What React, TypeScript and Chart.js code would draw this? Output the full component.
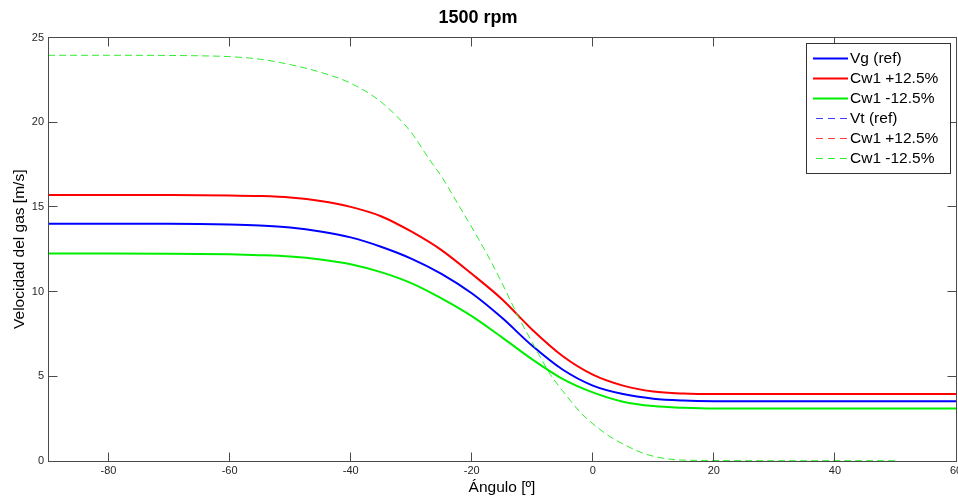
import React, { useEffect, useRef } from 'react';
import { Chart, registerables } from 'chart.js';

Chart.register(...registerables);

// ---- text ----
const titleText = '1500 rpm';
const xTitle = 'Ángulo [º]';
const yTitle = 'Velocidad del gas [m/s]';
const seriesLabels = ['Vg (ref)', 'Cw1 +12.5%', 'Cw1 -12.5%', 'Vt (ref)', 'Cw1 +12.5%', 'Cw1 -12.5%'];

// ---- axes ----
const xMin = -90;
const xMax = 60;
const yMin = 0;
const yMax = 25;
const xTicks = [-80, -60, -40, -20, 0, 20, 40, 60];
const yTicks = [0, 5, 10, 15, 20, 25];

// ---- gas velocity (solid) ----
const gasAngles = [-90, -80, -70, -60, -55, -50, -45, -40, -35, -30, -25, -20, -15, -10, -5, 0, 5, 10, 15, 20, 30, 40, 50, 60];
const vgRef = [14.0, 14.0, 14.0, 13.96, 13.9, 13.78, 13.55, 13.2, 12.65, 11.95, 11.05, 9.9, 8.45, 6.8, 5.4, 4.45, 3.95, 3.68, 3.57, 3.53, 3.52, 3.52, 3.52, 3.52];
const vgPlus = [15.7, 15.7, 15.7, 15.68, 15.64, 15.55, 15.35, 15.0, 14.45, 13.55, 12.45, 11.05, 9.55, 7.75, 6.2, 5.1, 4.45, 4.1, 3.98, 3.95, 3.95, 3.95, 3.95, 3.95];
const vgMinus = [12.25, 12.25, 12.24, 12.2, 12.15, 12.07, 11.9, 11.62, 11.15, 10.5, 9.6, 8.55, 7.3, 6.0, 4.85, 4.05, 3.5, 3.24, 3.14, 3.1, 3.1, 3.1, 3.1, 3.1];

// ---- Vt (dashed); the three dashed curves coincide in the picture,
// only the last one drawn (Cw1 -12.5%) is visible ----
const vtAngles = [-90, -80, -70, -65, -60, -55, -50, -45, -40, -35, -30, -27, -25, -22, -20, -17, -15, -12, -10, -7, -5, -2, 0, 3, 5, 8, 10, 14, 20, 30, 40, 50];
const vtRef = [23.95, 23.95, 23.94, 23.92, 23.87, 23.72, 23.4, 22.95, 22.3, 21.2, 19.4, 17.8, 16.8, 15.0, 13.8, 11.9, 10.5, 8.3, 7.0, 5.1, 4.15, 2.85, 2.2, 1.4, 1.0, 0.5, 0.28, 0.07, 0.03, 0.02, 0.02, 0.02];
const vtPlus = vtRef;
const vtMinus = vtRef;

const seriesColors = ['#0000ff', '#ff0000', '#00ee00', '#4040ff', '#ff4040', '#30ee30'];

const FONT = "'Liberation Sans', Arial, Helvetica, sans-serif";

const toPoints = (xs: number[], ys: number[]) => xs.map((x, i) => ({ x, y: ys[i] }));

const framePlugin = {
  id: 'frame',
  afterDatasetsDraw(chart: any) {
    const { ctx, chartArea: a, scales } = chart;
    const L = Math.floor(a.left) + 0.5;
    const R = Math.floor(a.right) + 0.5;
    const T = Math.floor(a.top) + 0.5;
    const B = Math.floor(a.bottom) + 0.5;
    ctx.save();
    ctx.strokeStyle = '#4a4a4a';
    ctx.lineWidth = 1;
    ctx.setLineDash([]);
    ctx.strokeRect(L, T, R - L, B - T);
    ctx.beginPath();
    const tl = 9;
    for (const v of xTicks) {
      const x = Math.floor(scales.x.getPixelForValue(v)) + 0.5;
      ctx.moveTo(x, B); ctx.lineTo(x, B - tl);
      ctx.moveTo(x, T); ctx.lineTo(x, T + tl);
    }
    for (const v of yTicks) {
      const y = Math.floor(scales.y.getPixelForValue(v)) + 0.5;
      ctx.moveTo(L, y); ctx.lineTo(L + tl, y);
      ctx.moveTo(R, y); ctx.lineTo(R - tl, y);
    }
    ctx.stroke();
    ctx.restore();
  },
};

const legendPlugin = {
  id: 'boxLegend',
  afterDraw(chart: any) {
    const { ctx } = chart;
    const bx = 806.5, by = 43.5, bw = 144, bh = 130;
    ctx.save();
    ctx.fillStyle = '#ffffff';
    ctx.fillRect(bx, by, bw, bh);
    ctx.strokeStyle = '#333333';
    ctx.lineWidth = 1;
    ctx.setLineDash([]);
    ctx.strokeRect(bx, by, bw, bh);
    ctx.font = `15.5px ${FONT}`;
    ctx.textBaseline = 'middle';
    ctx.textAlign = 'left';
    chart.data.datasets.forEach((ds: any, i: number) => {
      const y = 58.5 + i * 20;
      ctx.beginPath();
      ctx.strokeStyle = ds.borderColor;
      ctx.lineWidth = ds.borderWidth;
      if (ds.borderDash && ds.borderDash.length) {
        ctx.setLineDash([7, 5]);
        ctx.moveTo(816, y);
      } else {
        ctx.setLineDash([]);
        ctx.moveTo(813, y);
      }
      ctx.lineTo(848, y);
      ctx.stroke();
      ctx.setLineDash([]);
      ctx.fillStyle = '#000000';
      ctx.fillText(ds.label, 850, y);
    });
    ctx.restore();
  },
};

export default function App() {
  const canvasRef = useRef<HTMLCanvasElement | null>(null);

  useEffect(() => {
    document.body.style.margin = '0';
    const canvas = canvasRef.current;
    if (!canvas) return;
    Chart.defaults.font.family = FONT;

    const solid = (label: string, data: number[], color: string, order: number) => ({
      label,
      data: toPoints(gasAngles, data),
      borderColor: color,
      backgroundColor: color,
      borderWidth: 2,
      pointRadius: 0,
      fill: false,
      cubicInterpolationMode: 'monotone' as const,
      order,
    });
    const dashed = (label: string, data: number[], color: string, order: number, covered: boolean) => ({
      label,
      data: toPoints(vtAngles, data),
      borderColor: color,
      backgroundColor: color,
      borderWidth: 1,
      borderDash: [7, 4],
      pointRadius: 0,
      fill: false,
      cubicInterpolationMode: 'monotone' as const,
      order,
      hidden: covered,
    });

    const chart = new Chart(canvas, {
      type: 'line',
      data: {
        datasets: [
          solid(seriesLabels[0], vgRef, seriesColors[0], 5),
          solid(seriesLabels[1], vgPlus, seriesColors[1], 4),
          solid(seriesLabels[2], vgMinus, seriesColors[2], 3),
          dashed(seriesLabels[3], vtRef, seriesColors[3], 2, true),
          dashed(seriesLabels[4], vtPlus, seriesColors[4], 1, true),
          dashed(seriesLabels[5], vtMinus, seriesColors[5], 0, false),
        ],
      },
      options: {
        responsive: false,
        animation: false,
        events: [],
        layout: { padding: { left: 0, right: 2, top: 0, bottom: 0 } },
        plugins: {
          legend: { display: false },
          tooltip: { enabled: false },
          title: {
            display: true,
            text: titleText,
            color: '#000000',
            font: { family: FONT, size: 18, weight: 'bold' },
            padding: { top: 7, bottom: 8.9 },
          },
        },
        scales: {
          x: {
            type: 'linear',
            min: xMin,
            max: xMax,
            grid: { display: false, drawTicks: false },
            border: { display: false },
            ticks: { padding: 3, color: '#262626', font: { family: FONT, size: 11 }, maxRotation: 0, autoSkip: false },
            afterBuildTicks: (s: any) => { s.ticks = xTicks.map((v) => ({ value: v })); },
            afterFit: (s: any) => { s.height = 41; s.paddingLeft = 0; s.paddingRight = 0; },
            title: {
              display: true,
              text: xTitle,
              color: '#000000',
              font: { family: FONT, size: 15.5 },
              padding: { top: 0, bottom: 5 },
            },
          },
          y: {
            type: 'linear',
            min: yMin,
            max: yMax,
            grid: { display: false, drawTicks: false },
            border: { display: false },
            ticks: { padding: 4, color: '#262626', font: { family: FONT, size: 11 }, autoSkip: false },
            afterBuildTicks: (s: any) => { s.ticks = yTicks.map((v) => ({ value: v })); },
            afterFit: (s: any) => { s.width = 48; s.paddingTop = 0; s.paddingBottom = 0; },
            title: {
              display: true,
              text: yTitle,
              color: '#000000',
              font: { family: FONT, size: 15.5 },
              padding: { top: 10, bottom: 0 },
            },
          },
        },
      },
      plugins: [framePlugin, legendPlugin],
    } as any);

    return () => chart.destroy();
  }, []);

  return (
    <div style={{ width: 958, height: 502 }}>
      <canvas ref={canvasRef} width={958} height={502} style={{ display: 'block', width: 958, height: 502 }} />
    </div>
  );
}
